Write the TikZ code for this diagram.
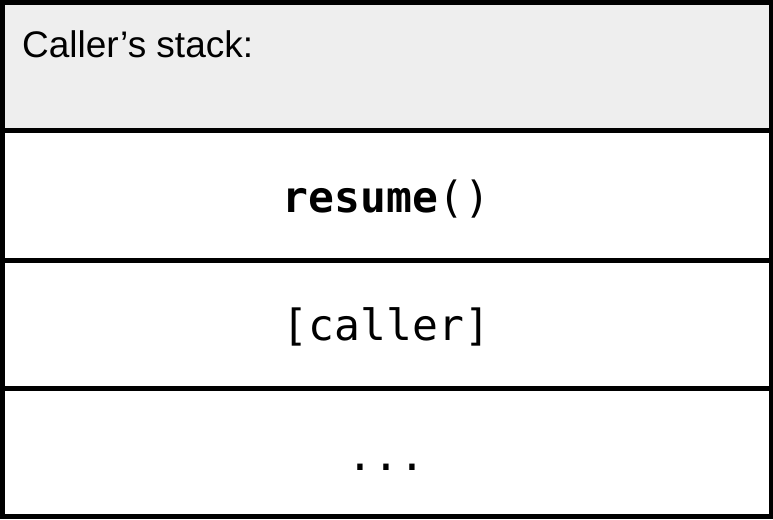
\documentclass[tikz,border=0pt]{standalone}
\usepackage{fontspec}
\setmainfont{Liberation Sans}
\setmonofont{DejaVu Sans Mono}
\definecolor{headgray}{HTML}{EEEEEE}
\begin{document}
\begin{tikzpicture}[x=1pt,y=-1pt,
  frame/.style={line width=5pt,line join=miter},
  label/.style={inner sep=0pt,font=\fontsize{37}{44}\selectfont},
  code/.style={inner sep=0pt,anchor=base,font=\ttfamily\fontsize{43}{50}\selectfont}]
\useasboundingbox (0,0) rectangle (773,519);
% header band
\fill[headgray] (2.5,2.5) rectangle (771,130.5);
% outer frame and row dividers
\draw[frame] (2.5,2.5) rectangle (771,516);
\draw[frame] (2.5,130.5) -- (771,130.5);
\draw[frame] (2.5,260) -- (771,260);
\draw[frame] (2.5,388) -- (771,388);
% texts
\node[label,anchor=base west] (title) at (22,57) {Caller’s stack:};
\node[code] (resume) at (386.5,212) {\textbf{resume}()};
\node[code] (caller) at (386.5,340) {[caller]};
\node[code] (dots) at (386.5,470) {...};
\end{tikzpicture}
\end{document}
